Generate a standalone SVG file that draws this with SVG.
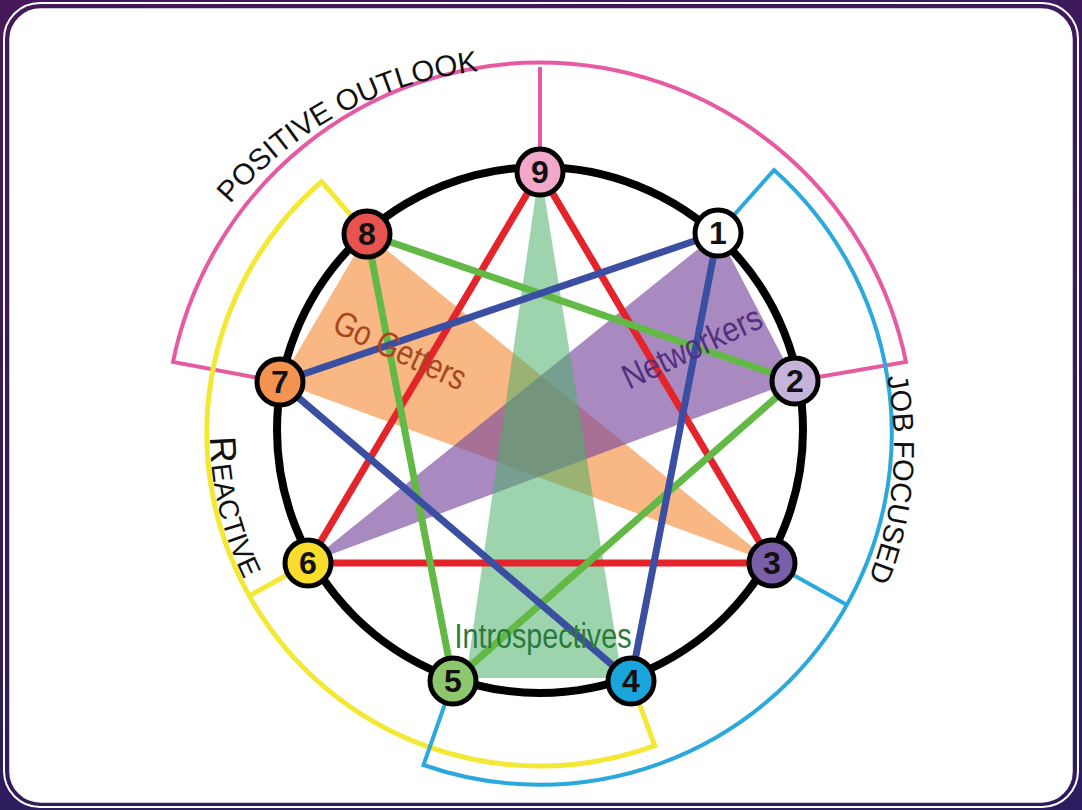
<svg xmlns="http://www.w3.org/2000/svg" width="1082" height="810" viewBox="0 0 1082 810">
<defs>
<linearGradient id="bg" x1="0" y1="0" x2="0.3" y2="1">
<stop offset="0" stop-color="#46195a"/>
<stop offset="1" stop-color="#2a1c5e"/>
</linearGradient>
<path id="pPos" d="M 230,204 A 380 380 0 0 1 556.1,70.4"/>
<path id="pJob" d="M 887,376.8 A 355 355 0 0 1 810.9,675.2"/>
<path id="pRea" d="M 210,437 A 330 330 0 0 0 287.2,645.1"/>
</defs>
<style>
.arc{fill:none;stroke-linejoin:miter;stroke-linecap:butt}
.pink{stroke:#e65aa2;stroke-width:4}
.yel{stroke:#f3e935;stroke-width:5}
.cyan{stroke:#2ba9dc;stroke-width:4}
.ln{stroke-width:7;stroke-linecap:round;fill:none}
.red{stroke:#e4232a}
.grn{stroke:#63b946}
.blu{stroke:#3b4fa2}
.node circle{stroke:#000;stroke-width:5}
.node text{font-family:"Liberation Sans",Arial,sans-serif;font-weight:bold;font-size:32px;text-anchor:middle;fill:#111}
.cap{font-family:"Liberation Sans",Arial,sans-serif;fill:#111}
.grp{font-family:"Liberation Sans",Arial,sans-serif;font-size:35px;text-anchor:middle}
</style>
<rect x="0" y="0" width="1082" height="810" fill="url(#bg)"/>
<rect x="4" y="3" width="1074" height="804" rx="36" fill="none" stroke="#ffffff" stroke-width="2"/>
<rect x="8.5" y="7.5" width="1065" height="796" rx="32" fill="#ffffff" stroke="#3b1a5c" stroke-width="1.5"/>

<g id="bands">
<path class="arc pink" d="M 280,382 L 173,362 A 374 374 0 0 1 906,362 L 795,381 M 540,67 L 540,172"/>
<path class="arc yel" d="M 367,234 L 321.5,181.6 A 333 333 0 0 0 654.7,745.6 L 631,681 M 308,563 L 249.5,595.8"/>
<path class="arc cyan" d="M 718,233 L 774,170 A 352 352 0 0 1 423.5,765 L 453,681 M 772,563 L 847,605"/>
</g>

<g id="band-labels">
<text class="cap" font-size="29.5"><textPath href="#pPos">POSITIVE OUTLOOK</textPath></text>
<text class="cap" font-size="29"><textPath href="#pJob">JOB FOCUSED</textPath></text>
<text class="cap" font-size="28"><textPath href="#pRea"><tspan font-size="37">R</tspan><tspan dx="1">EACTIVE</tspan></textPath></text>
</g>

<g id="groups">
<polygon points="367,234 280,382 772,563" fill="#f58a38" fill-opacity="0.62"/>
<polygon points="718,233 795,381 308,563" fill="#7a4b9e" fill-opacity="0.65"/>
<polygon points="537,186 543,186 622,678 466,678" fill="#4cb06a" fill-opacity="0.55"/>
</g>

<g id="connectors">
<polygon class="ln red" points="540,172 772,563 308,563" stroke-linejoin="round"/>
<polygon class="ln grn" points="367,234 795,381 453,681" stroke-linejoin="round"/>
<polygon class="ln blu" points="718,233 280,382 631,681" stroke-linejoin="round"/>
</g>

<circle id="ring" cx="540" cy="430" r="263" fill="none" stroke="#000" stroke-width="8"/>

<g id="group-labels" class="grp">
<text x="395" y="361" transform="rotate(25 395 361)" fill="#a8471e" textLength="142" lengthAdjust="spacingAndGlyphs">Go Getters</text>
<text x="697" y="358" transform="rotate(-25 697 358)" fill="#52307f" textLength="150" lengthAdjust="spacingAndGlyphs">Networkers</text>
<text x="543" y="648" fill="#2a7a3c" textLength="177" lengthAdjust="spacingAndGlyphs">Introspectives</text>
</g>

<g id="n9" class="node"><circle cx="540" cy="172" r="23" fill="#f2a8c9"/><text x="540" y="183">9</text></g>
<g id="n1" class="node"><circle cx="718" cy="233" r="23" fill="#ffffff"/><text x="718" y="244">1</text></g>
<g id="n2" class="node"><circle cx="795" cy="381" r="23" fill="#c6b3da"/><text x="795" y="392">2</text></g>
<g id="n3" class="node"><circle cx="772" cy="563" r="23" fill="#7a5ea8"/><text x="772" y="574">3</text></g>
<g id="n4" class="node"><circle cx="631" cy="681" r="23" fill="#1aa6dd"/><text x="631" y="692">4</text></g>
<g id="n5" class="node"><circle cx="453" cy="681" r="23" fill="#8dc66c"/><text x="453" y="692">5</text></g>
<g id="n6" class="node"><circle cx="308" cy="563" r="23" fill="#f9dc2c"/><text x="308" y="574">6</text></g>
<g id="n7" class="node"><circle cx="280" cy="382" r="23" fill="#f49350"/><text x="280" y="393">7</text></g>
<g id="n8" class="node"><circle cx="367" cy="234" r="23" fill="#e9534f"/><text x="367" y="245">8</text></g>
</svg>
